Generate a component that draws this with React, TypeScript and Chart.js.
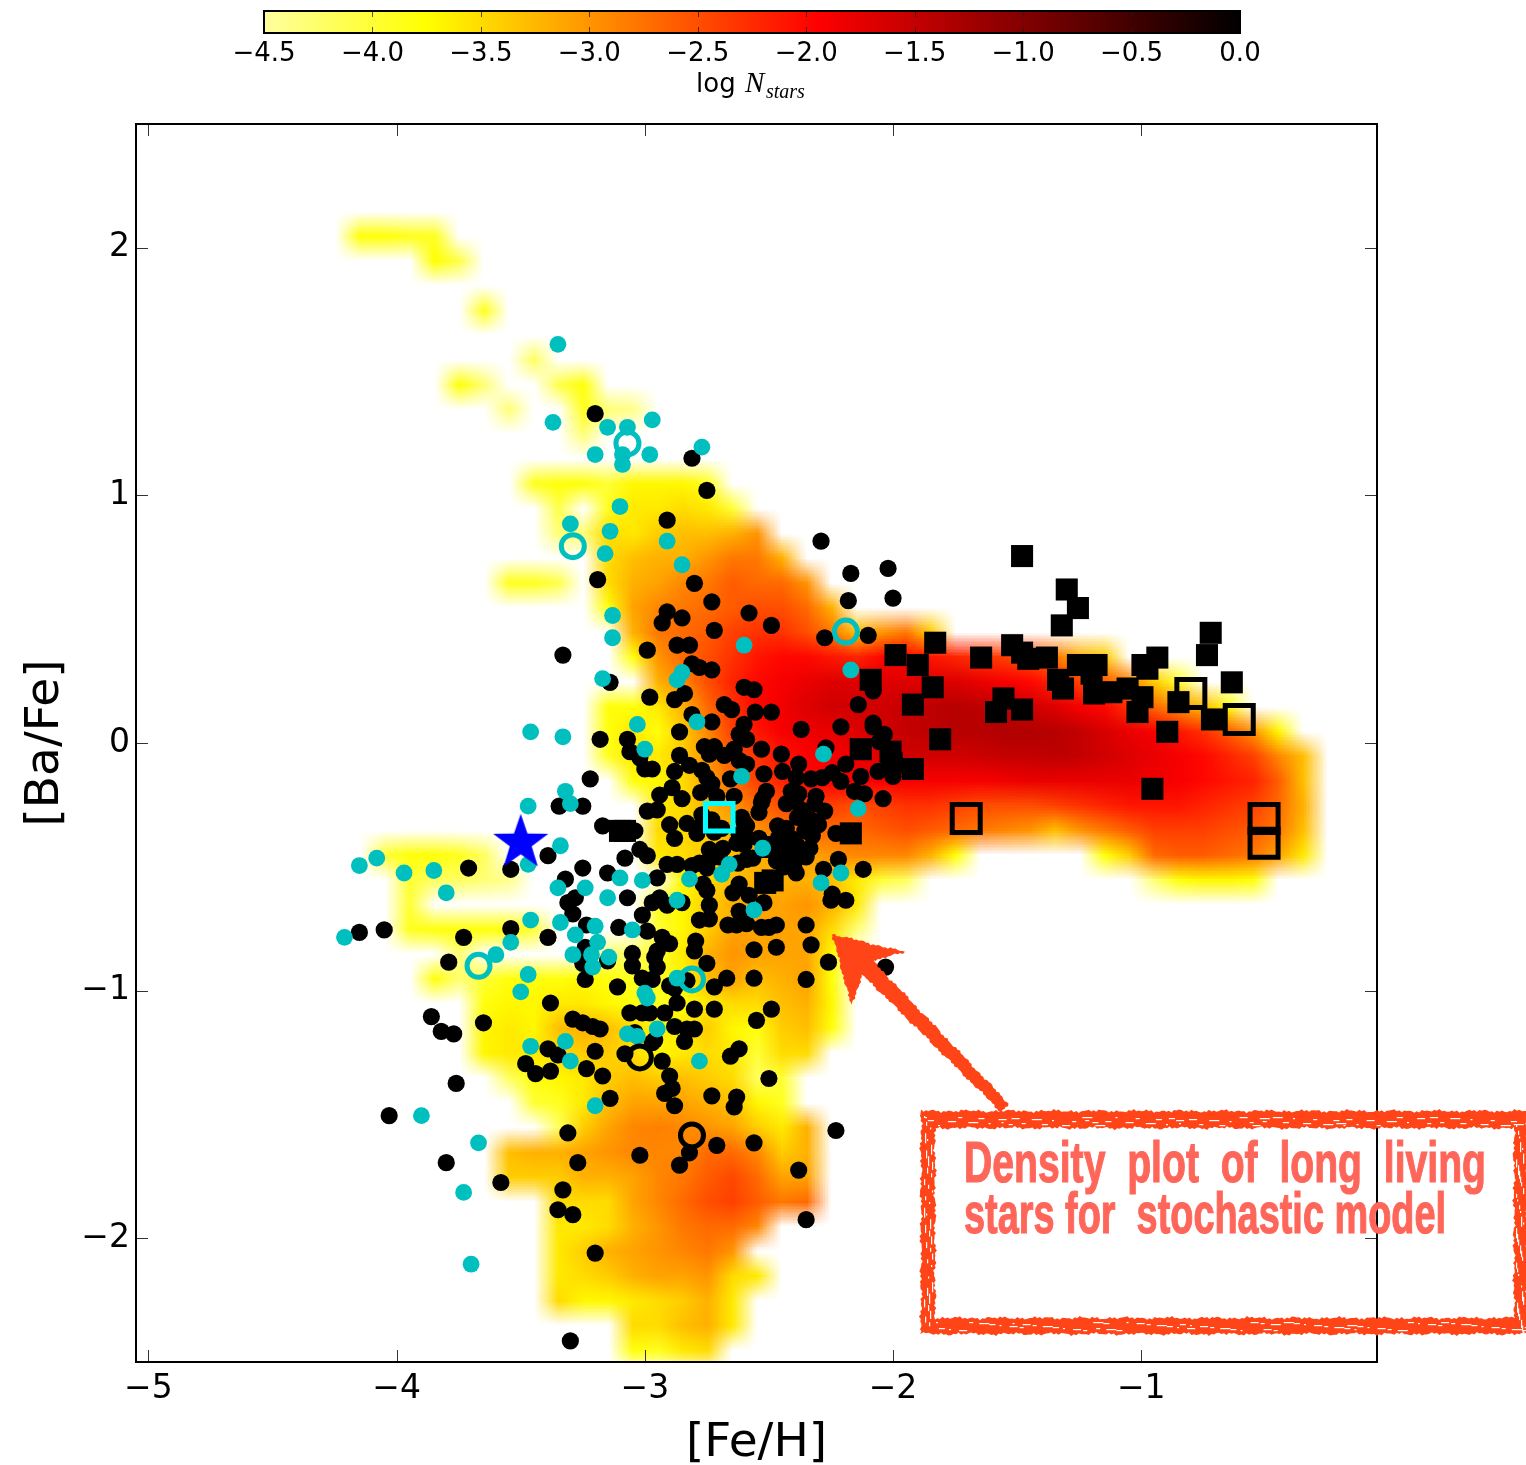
import React, { useEffect, useRef } from "react";
import { Chart, registerables } from "chart.js";

Chart.register(...registerables);

const xTicks = [-5, -4, -3, -2, -1];
const yTicks = [-2, -1, 0, 1, 2];
const colorbarTicks = [-4.5, -4, -3.5, -3, -2.5, -2, -1.5, -1, -0.5, 0];

// log N_stars colour stops: value, r, g, b
const colorStops = [
  [-4.5, 255, 255, 160],
  [-3.75, 255, 255, 0],
  [-1.95, 255, 0, 0],
  [0, 0, 0, 0],
];

// density cells: [Ba/Fe], first [Fe/H], then log N for consecutive 0.1 dex cells
const densityRows: number[][] = [
  [2.05, -4.15, -3.8, -3.8, -3.9, -3.9],
  [1.95, -3.85, -3.75, -4.1],
  [1.75, -3.65, -3.9],
  [1.55, -3.45, -4.2],
  [1.45, -3.75, -3.8, -4.3],
  [1.45, -3.35, -4.1, -3.8],
  [1.35, -3.55, -4.3],
  [1.35, -3.25, -3.9, -4.3, -4.4],
  [1.25, -3.25, -4.3],
  [1.05, -3.45, -3.9, -3.8, -3.8, -4.0, -3.7, -3.7, -3.7, -3.9],
  [0.95, -3.35, -4.1],
  [0.95, -3.15, -3.9, -3.6, -3.6, -3.5, -3.6, -4.0],
  [0.85, -3.35, -4.3, -4.3, -3.5, -3.6, -3.4, -3.3, -3.3, -3.2, -3.0],
  [0.75, -3.15, -3.5, -3.3, -3.2, -3.2, -3.0, -2.8, -2.8, -3.2],
  [0.65, -3.55, -3.9, -3.9, -4.1],
  [0.65, -3.15, -3.5, -3.2, -3.1, -2.9, -2.8, -2.6, -2.7, -2.7, -3.0],
  [0.55, -3.15, -3.8, -3.1, -2.9, -2.8, -2.7, -2.6, -2.5, -2.5, -2.7, -3.2],
  [0.45, -3.05, -3.2, -2.8, -2.7, -2.6, -2.4, -2.3, -2.3, -2.5, -2.8, -3.3, -3.0, -2.8, -3.4],
  [0.35, -3.05, -3.8, -3.0, -2.7, -2.5, -2.3, -2.1, -2.0, -2.0, -2.1, -2.2, -2.0, -2.0, -2.1, -2.2, -2.3, -2.4, -2.5, -2.8, -3.2, -3.4],
  [0.25, -2.95, -3.2, -2.9, -2.5, -2.2, -2.0, -1.9, -1.8, -1.7, -1.7, -1.7, -1.7, -1.7, -1.7, -1.8, -1.9, -2.0, -2.2, -2.4, -2.6, -2.9, -3.4, -4.0],
  [0.15, -3.15, -3.8, -3.8, -3.6, -3.2, -2.7, -2.3, -2.0, -1.85, -1.7, -1.6, -1.6, -1.6, -1.5, -1.45, -1.4, -1.45, -1.5, -1.6, -1.7, -1.9, -2.0, -2.3, -2.7, -3.0, -3.3, -3.8],
  [0.05, -3.15, -3.8, -3.6, -3.8, -3.4, -2.9, -2.4, -2.1, -1.9, -1.8, -1.8, -1.7, -1.6, -1.5, -1.45, -1.4, -1.4, -1.35, -1.35, -1.4, -1.5, -1.65, -1.8, -1.9, -2.1, -2.3, -2.6, -3.0, -3.7],
  [-0.05, -3.15, -3.9, -3.6, -3.6, -3.4, -3.0, -2.6, -2.3, -2.1, -1.95, -1.9, -1.8, -1.7, -1.6, -1.6, -1.6, -1.55, -1.5, -1.5, -1.45, -1.5, -1.6, -1.7, -1.8, -1.9, -2.0, -2.2, -2.4, -2.9, -3.3],
  [-0.15, -3.05, -3.8, -3.7, -3.5, -3.1, -2.7, -2.4, -2.2, -2.0, -1.95, -1.9, -1.9, -1.9, -1.9, -1.9, -1.9, -1.85, -1.8, -1.8, -1.8, -1.8, -1.8, -1.85, -1.9, -2.0, -2.1, -2.2, -2.6, -3.3],
  [-0.25, -2.95, -3.6, -3.5, -3.2, -3.0, -2.7, -2.5, -2.4, -2.4, -2.5, -2.4, -2.3, -2.3, -2.4, -2.5, -2.5, -2.5, -2.4, -2.3, -2.2, -2.1, -2.1, -2.1, -2.2, -2.3, -2.4, -2.7, -3.2],
  [-0.35, -2.95, -3.5, -3.5, -3.4, -3.2, -3.0, -2.8, -2.7, -2.7, -2.7, -2.6, -2.5, -2.6, -2.7, -2.8, -2.9, -3.0, -3.3, -3.0, -2.8, -2.6, -2.4, -2.4, -2.4, -2.5, -2.6, -2.8, -3.3],
  [-0.45, -4.05, -4.0, -3.8, -3.8, -3.9, -4.2],
  [-0.45, -2.95, -3.6, -3.5, -3.4, -3.3, -3.2, -3.1, -3.1, -3.0, -2.9, -2.9, -2.9, -3.2, -3.8],
  [-0.45, -1.15, -3.8, -3.4, -2.7, -2.6, -2.6, -2.7, -2.8, -3.1, -3.6],
  [-0.55, -3.95, -4.0, -4.2, -4.2, -4.3, -4.4],
  [-0.55, -2.85, -3.7, -3.5, -3.3, -3.2, -3.2, -3.2, -3.3, -3.6, -4.0, -4.2],
  [-0.55, -0.95, -4.3, -3.8, -3.7, -3.7, -3.8],
  [-0.65, -3.95, -4.0],
  [-0.65, -2.95, -3.9, -3.7, -3.4, -3.2, -3.1, -3.1, -3.0, -3.2, -3.6],
  [-0.75, -3.95, -3.9, -3.8, -3.8, -3.8, -3.8, -4.0],
  [-0.75, -2.95, -4.0, -3.7, -3.4, -3.1, -3.1, -3.1, -3.1, -3.5, -4.3],
  [-0.85, -3.75, -4.3],
  [-0.85, -3.15, -4.3, -4.2, -4.0, -3.6, -3.2, -3.0, -3.1, -3.1, -3.1, -3.7],
  [-0.95, -3.85, -3.8, -4.3, -4.0, -3.8, -3.8, -3.8, -3.7, -3.8, -3.9, -3.9, -3.7, -3.3, -3.1, -3.3, -3.2, -3.1, -3.8],
  [-1.05, -3.65, -3.8, -3.7, -3.7, -3.6, -3.6, -3.7, -3.8, -3.9, -3.8, -3.6, -3.5, -3.5, -3.3, -3.2, -3.7],
  [-1.15, -3.65, -3.7, -3.6, -3.7, -3.3, -3.2, -3.3, -3.5, -3.7, -3.6, -3.4, -3.7, -3.8, -3.4, -3.3, -3.8],
  [-1.25, -3.65, -3.7, -3.6, -3.6, -3.5, -3.4, -3.4, -3.5, -3.7, -3.6, -3.5, -3.6, -4.0, -3.5, -3.5],
  [-1.35, -3.55, -4.2, -3.8, -3.7, -3.6, -3.4, -3.3, -3.4, -3.3, -3.4, -3.5, -4.2, -4.0],
  [-1.45, -3.45, -4.0, -3.9, -3.6, -3.3, -3.1, -3.1, -3.1, -3.2, -3.3, -3.7, -3.9],
  [-1.55, -3.35, -4.2, -3.4, -3.1, -2.9, -2.85, -2.9, -3.0, -3.1, -3.4, -3.6, -3.2],
  [-1.65, -3.55, -3.3, -3.2, -3.2, -3.1, -3.0, -2.9, -2.9, -2.9, -2.7, -2.7, -2.9, -3.4, -3.2],
  [-1.75, -3.55, -3.4, -3.4, -3.4, -3.2, -3.2, -3.1, -2.9, -2.8, -2.6, -2.45, -2.7, -3.1, -3.1],
  [-1.85, -3.35, -3.5, -3.5, -3.5, -3.1, -2.9, -2.7, -2.5, -2.4, -2.6, -2.8, -2.7],
  [-1.95, -3.35, -3.6, -3.6, -3.5, -3.2, -3.0, -2.8, -2.7, -2.7, -2.9],
  [-2.05, -3.35, -3.6, -3.4, -3.2, -3.1, -3.0, -2.9, -2.8, -3.0],
  [-2.15, -3.35, -3.6, -3.5, -3.4, -3.2, -3.1, -3.1, -3.0, -3.5, -3.6],
  [-2.25, -3.35, -3.5, -3.7, -3.7, -3.6, -3.5, -3.4, -3.2, -3.6],
  [-2.35, -3.05, -3.5, -3.5, -3.3, -3.2, -3.6],
  [-2.45, -3.05, -3.8, -3.9, -3.6, -3.5],
];

const blackStars = [
  [-3.2, 1.33], [-2.81, 1.15], [-2.75, 1.02], [-2.91, 0.9], [-3.19, 0.66], [-2.8, 0.645], [-2.73, 0.57], [-2.29, 0.815],
  [-2.17, 0.685], [-2.02, 0.705], [-2.18, 0.575], [-2.0, 0.585], [-2.91, 0.53], [-2.93, 0.485], [-2.85, 0.505], [-2.58, 0.525],
  [-2.49, 0.475], [-2.72, 0.455], [-2.275, 0.425], [-2.1, 0.435], [-2.99, 0.375], [-2.87, 0.395], [-2.82, 0.395], [-3.33, 0.355],
  [-2.81, 0.32], [-2.78, 0.305], [-2.73, 0.295], [-3.14, 0.245], [-2.6, 0.225], [-2.56, 0.215], [-2.08, 0.21], [-2.98, 0.185],
  [-2.88, 0.175], [-2.84, 0.2], [-2.68, 0.155], [-2.65, 0.135], [-2.555, 0.125], [-2.49, 0.125], [-2.14, 0.155], [-2.81, 0.115],
  [-2.73, 0.085], [-2.6, 0.075], [-2.37, 0.055], [-2.21, 0.065], [-2.08, 0.08], [-2.08, 0.065], [-2.86, 0.045], [-3.18, 0.015],
  [-3.07, 0.015], [-2.62, 0.035], [-2.59, 0.015], [-2.035, 0.035], [-2.055, 0.005], [-3.06, -0.035], [-2.76, -0.015], [-2.72, -0.015],
  [-2.74, -0.045], [-2.68, -0.05], [-2.64, -0.025], [-2.53, -0.025], [-2.45, -0.045], [-2.27, -0.02], [-2.86, -0.05], [-2.38, -0.085],
  [-2.19, -0.085], [-2.62, -0.07], [-2.59, -0.085], [-3.02, -0.06], [-2.82, -0.09], [-3.0, -0.105], [-2.97, -0.105], [-2.88, -0.115],
  [-2.77, -0.11], [-2.75, -0.14], [-2.52, -0.125], [-2.445, -0.115], [-2.13, -0.135], [-2.06, -0.115], [-2.0, -0.135], [-2.245, -0.12],
  [-2.21, -0.155], [-3.22, -0.145], [-2.285, -0.14], [-2.33, -0.145], [-2.39, -0.14], [-2.155, -0.195], [-2.115, -0.205], [-2.89, -0.18],
  [-2.94, -0.21], [-2.51, -0.195], [-2.655, -0.145], [-2.73, -0.165], [-2.775, -0.2], [-2.71, -0.215], [-2.64, -0.215], [-2.85, -0.225],
  [-2.41, -0.195], [-2.38, -0.205], [-2.31, -0.215], [-2.525, -0.225], [-2.04, -0.225], [-3.345, -0.255], [-3.25, -0.255], [-2.99, -0.275],
  [-2.95, -0.27], [-2.53, -0.24], [-2.54, -0.28], [-2.43, -0.245], [-2.39, -0.22], [-2.275, -0.275], [-2.315, -0.245], [-2.355, -0.3],
  [-2.385, -0.3], [-3.17, -0.335], [-3.04, -0.355], [-2.9, -0.33], [-2.83, -0.325], [-2.88, -0.385], [-2.79, -0.365], [-2.59, -0.335],
  [-2.59, -0.385], [-2.54, -0.385], [-2.465, -0.335], [-2.43, -0.345], [-2.355, -0.355], [-2.325, -0.375], [-2.23, -0.365], [-3.02, -0.43],
  [-2.99, -0.455], [-3.39, -0.455], [-2.74, -0.43], [-2.685, -0.425], [-2.63, -0.405], [-2.59, -0.47], [-2.565, -0.465], [-2.625, -0.485],
  [-2.43, -0.415], [-2.385, -0.415], [-2.335, -0.425], [-2.35, -0.46], [-2.425, -0.465], [-2.47, -0.475], [-3.08, -0.465], [-3.25, -0.505],
  [-2.91, -0.49], [-2.87, -0.49], [-2.78, -0.485], [-2.81, -0.495], [-2.75, -0.505], [-2.22, -0.47], [-2.28, -0.51], [-2.12, -0.51],
  [-2.39, -0.525], [-3.15, -0.525], [-3.32, -0.55], [-2.95, -0.545], [-2.765, -0.57], [-2.75, -0.595], [-2.62, -0.57], [-2.645, -0.605],
  [-2.58, -0.615], [-3.07, -0.625], [-3.28, -0.625], [-3.31, -0.645], [-2.94, -0.625], [-2.97, -0.645], [-2.91, -0.655], [-2.85, -0.645],
  [-2.74, -0.655], [-2.52, -0.645], [-2.245, -0.61], [-2.25, -0.635], [-2.19, -0.635], [-3.29, -0.69], [-3.01, -0.695], [-2.62, -0.68],
  [-3.235, -0.735], [-3.105, -0.745], [-2.99, -0.76], [-2.78, -0.715], [-2.74, -0.71], [-2.665, -0.735], [-2.63, -0.735], [-2.59, -0.73],
  [-2.53, -0.745], [-2.5, -0.745], [-2.47, -0.735], [-2.35, -0.735], [-3.39, -0.785], [-2.93, -0.785], [-2.9, -0.81], [-2.795, -0.8],
  [-2.8, -0.84], [-2.56, -0.835], [-2.47, -0.825], [-2.33, -0.815], [-3.24, -0.825], [-3.25, -0.89], [-3.15, -0.88], [-3.05, -0.85],
  [-2.95, -0.84], [-2.96, -0.865], [-3.05, -0.9], [-2.95, -0.905], [-2.75, -0.89], [-2.26, -0.885], [-3.24, -0.955], [-3.01, -0.95],
  [-2.97, -0.955], [-2.67, -0.95], [-2.56, -0.95], [-2.35, -0.955], [-3.11, -0.985], [-2.9, -0.98], [-2.88, -0.99], [-2.83, -0.96],
  [-2.72, -0.985], [-2.87, -1.05], [-3.38, -1.05], [-2.8, -1.075], [-2.72, -1.075], [-2.49, -1.075], [-3.06, -1.09], [-3.01, -1.09],
  [-2.98, -1.09], [-2.92, -1.09], [-3.29, -1.115], [-3.25, -1.13], [-3.21, -1.145], [-3.18, -1.155], [-2.55, -1.12], [-3.71, -0.505],
  [-3.54, -0.51], [-4.15, -0.765], [-4.05, -0.755], [-3.73, -0.785], [-3.54, -0.75], [-3.79, -0.885], [-3.86, -1.105], [-3.82, -1.165],
  [-3.77, -1.175], [-3.65, -1.13], [-2.88, -1.145], [-2.83, -1.155], [-2.8, -1.155], [-3.04, -1.17], [-2.96, -1.2], [-2.97, -1.21],
  [-2.84, -1.205], [-3.39, -1.235], [-3.35, -1.26], [-3.2, -1.245], [-3.08, -1.255], [-2.93, -1.285], [-2.62, -1.235], [-2.655, -1.265],
  [-3.48, -1.295], [-3.44, -1.335], [-3.38, -1.325], [-3.235, -1.315], [-3.17, -1.345], [-2.9, -1.345], [-2.89, -1.395], [-2.92, -1.415],
  [-2.73, -1.425], [-2.63, -1.43], [-2.64, -1.47], [-2.88, -1.465], [-3.14, -1.435], [-2.5, -1.355], [-3.76, -1.375], [-4.03, -1.505],
  [-3.31, -1.575], [-2.23, -1.565], [-2.71, -1.625], [-2.56, -1.615], [-2.82, -1.655], [-3.02, -1.665], [-2.86, -1.705], [-3.8, -1.695],
  [-3.27, -1.695], [-2.38, -1.725], [-3.58, -1.775], [-3.33, -1.805], [-3.35, -1.885], [-3.29, -1.905], [-2.35, -1.925], [-3.2, -2.06],
  [-3.3, -2.415], [-2.03, -0.905],
  [-2.73, -0.31], [-2.69, -0.345], [-2.72, -0.36], [-2.61, -0.3], [-2.6, -0.32], [-2.62, -0.37], [-2.6, -0.41], [-2.46, -0.38],
  [-2.41, -0.385], [-2.4, -0.5], [-2.44, -0.5], [-2.3, -0.33], [-2.33, -0.31], [-2.37, -0.27], [-2.74, -0.47], [-2.7, -0.46],
  [-2.77, -0.33], [-2.77, -0.29],
];

const cyanStars = [
  [-3.35, 1.61], [-3.37, 1.295], [-3.15, 1.275], [-3.07, 1.275], [-2.97, 1.305], [-3.2, 1.165], [-3.09, 1.165], [-3.09, 1.125],
  [-2.98, 1.165], [-2.77, 1.195], [-3.1, 0.955], [-3.3, 0.885], [-3.14, 0.855], [-3.16, 0.765], [-2.91, 0.815], [-2.85, 0.72],
  [-3.13, 0.515], [-3.13, 0.425], [-2.6, 0.395], [-2.17, 0.295], [-2.85, 0.285], [-2.87, 0.255], [-3.17, 0.26], [-3.03, 0.075],
  [-2.79, 0.085], [-3.33, 0.025], [-3.46, 0.045], [-3.0, -0.025], [-2.28, -0.045], [-2.61, -0.135], [-3.32, -0.195], [-3.3, -0.245],
  [-3.47, -0.255], [-2.14, -0.265], [-3.34, -0.415], [-2.525, -0.425], [-3.47, -0.49], [-2.66, -0.49], [-2.69, -0.53], [-2.82, -0.55],
  [-3.1, -0.545], [-3.01, -0.555], [-2.21, -0.525], [-2.29, -0.565], [-3.35, -0.585], [-3.24, -0.585], [-3.15, -0.625], [-2.87, -0.635],
  [-2.56, -0.675], [-3.34, -0.725], [-3.28, -0.775], [-3.2, -0.74], [-3.19, -0.805], [-3.05, -0.755], [-3.29, -0.855], [-3.215, -0.855],
  [-3.145, -0.865], [-3.21, -0.905], [-2.87, -0.95], [-3.0, -1.01], [-2.99, -1.03], [-4.15, -0.495], [-4.08, -0.465], [-3.97, -0.525],
  [-3.85, -0.515], [-3.8, -0.605], [-4.21, -0.785], [-3.46, -0.715], [-3.54, -0.805], [-3.6, -0.855], [-3.47, -0.935], [-3.5, -1.005],
  [-3.46, -1.225], [-3.32, -1.205], [-3.3, -1.285], [-3.07, -1.175], [-3.03, -1.185], [-2.95, -1.155], [-2.78, -1.285], [-3.2, -1.465],
  [-3.9, -1.505], [-3.67, -1.615], [-3.73, -1.815], [-3.7, -2.105],
];

const blackSquares = [
  [-1.48, 0.755], [-1.3, 0.62], [-1.255, 0.545], [-1.32, 0.475], [-1.83, 0.405], [-1.99, 0.355], [-1.9, 0.315], [-1.52, 0.395],
  [-1.48, 0.365], [-1.455, 0.34], [-1.38, 0.345], [-1.645, 0.345], [-1.255, 0.315], [-1.18, 0.315], [-1.335, 0.255], [-1.315, 0.22],
  [-1.84, 0.225], [-1.92, 0.155], [-1.555, 0.18], [-1.585, 0.125], [-1.48, 0.135], [-2.09, 0.255], [-1.81, 0.015], [-2.13, -0.025],
  [-2.01, -0.035], [-2.005, -0.08], [-1.92, -0.105], [-0.955, -0.185], [-2.17, -0.365], [-1.2, 0.28], [-1.19, 0.2], [-1.12, 0.205],
  [-1.055, 0.22], [-0.995, 0.185], [-1.015, 0.125], [-0.995, 0.315], [-0.935, 0.345], [-0.975, 0.3], [-0.72, 0.445], [-0.735, 0.355],
  [-0.635, 0.245], [-0.85, 0.165], [-0.715, 0.095], [-0.895, 0.045], [-3.1, -0.355], [-3.08, -0.355], [-2.5, -0.42], [-2.415, -0.435],
  [-2.485, -0.555], [-2.515, -0.565],
];

const openBlackSquares = [[-1.705, -0.305], [-0.8, 0.2], [-0.605, 0.095], [-0.505, -0.305], [-0.505, -0.405]];
const openCyanCircles = [[-3.07, 1.21], [-3.29, 0.795], [-2.19, 0.45], [-3.67, -0.9], [-2.81, -0.955]];
const openBlackCircles = [[-3.02, -1.27], [-2.81, -1.585]];
const cyanSquare = [[-2.7, -0.3]];
const blueStar = [[-3.5, -0.403]];

const toPoints = (list: number[][]) => list.map(([x, y]) => ({ x, y }));

function colorFor(v: number): [number, number, number] {
  if (v <= colorStops[0][0]) return [colorStops[0][1], colorStops[0][2], colorStops[0][3]];
  for (let i = 1; i < colorStops.length; i++) {
    const a = colorStops[i - 1];
    const b = colorStops[i];
    if (v <= b[0]) {
      const t = (v - a[0]) / (b[0] - a[0]);
      return [a[1] + t * (b[1] - a[1]), a[2] + t * (b[2] - a[2]), a[3] + t * (b[3] - a[3])];
    }
  }
  return [0, 0, 0];
}

const GRID_X0 = -4.45;
const GRID_Y0 = 2.15;
const GRID_STEP = 0.1;
const GRID_COLS = 44;
const GRID_ROWS = 48;

function buildDensityImage(): HTMLCanvasElement {
  const c = document.createElement("canvas");
  c.width = GRID_COLS;
  c.height = GRID_ROWS;
  const g = c.getContext("2d")!;
  const img = g.createImageData(GRID_COLS, GRID_ROWS);
  densityRows.forEach((row) => {
    const r = Math.round((GRID_Y0 - row[0]) / GRID_STEP);
    const c0 = Math.round((row[1] - GRID_X0) / GRID_STEP);
    for (let k = 2; k < row.length; k++) {
      const col = c0 + k - 2;
      const [cr, cg, cb] = colorFor(row[k]);
      const i = (r * GRID_COLS + col) * 4;
      img.data[i] = cr;
      img.data[i + 1] = cg;
      img.data[i + 2] = cb;
      img.data[i + 3] = 255;
    }
  });
  g.putImageData(img, 0, 0);
  return c;
}

function buildStar(): HTMLCanvasElement {
  const c = document.createElement("canvas");
  c.width = 62;
  c.height = 62;
  const g = c.getContext("2d")!;
  g.fillStyle = "#0000ff";
  g.beginPath();
  for (let i = 0; i < 10; i++) {
    const r = i % 2 === 0 ? 29 : 11.5;
    const a = -Math.PI / 2 + (i * Math.PI) / 5;
    const x = 31 + r * Math.cos(a);
    const y = 31 + r * Math.sin(a);
    if (i === 0) g.moveTo(x, y);
    else g.lineTo(x, y);
  }
  g.closePath();
  g.fill();
  return c;
}

const densityPlugin = {
  id: "density",
  beforeDatasetsDraw(chart: any) {
    const { ctx, chartArea: a, scales } = chart;
    const image = buildDensityImage();
    const left = scales.x.getPixelForValue(GRID_X0 - GRID_STEP / 2);
    const right = scales.x.getPixelForValue(GRID_X0 + (GRID_COLS - 0.5) * GRID_STEP);
    const top = scales.y.getPixelForValue(GRID_Y0 + GRID_STEP / 2);
    const bottom = scales.y.getPixelForValue(GRID_Y0 - (GRID_ROWS - 0.5) * GRID_STEP);
    ctx.save();
    ctx.beginPath();
    ctx.rect(a.left, a.top, a.right - a.left, a.bottom - a.top);
    ctx.clip();
    ctx.imageSmoothingEnabled = true;
    ctx.imageSmoothingQuality = "low";
    ctx.drawImage(image, left, top, right - left, bottom - top);
    ctx.restore();
  },
};

const framePlugin = {
  id: "frame",
  afterDatasetsDraw(chart: any) {
    const { ctx, chartArea: a, scales } = chart;
    ctx.save();
    ctx.strokeStyle = "#333";
    ctx.lineWidth = 1;
    ctx.beginPath();
    xTicks.forEach((v) => {
      const p = Math.round(scales.x.getPixelForValue(v)) + 0.5;
      ctx.moveTo(p, a.top);
      ctx.lineTo(p, a.top + 12);
      ctx.moveTo(p, a.bottom);
      ctx.lineTo(p, a.bottom - 12);
    });
    yTicks.forEach((v) => {
      const p = Math.round(scales.y.getPixelForValue(v)) + 0.5;
      ctx.moveTo(a.left, p);
      ctx.lineTo(a.left + 12, p);
      ctx.moveTo(a.right, p);
      ctx.lineTo(a.right - 12, p);
    });
    ctx.stroke();
    ctx.strokeStyle = "#000";
    ctx.lineWidth = 2;
    ctx.strokeRect(a.left, a.top, a.right - a.left, a.bottom - a.top);
    ctx.restore();
  },
};

function wobble(i: number) {
  return Math.sin(i * 2.73) * 0.9 + Math.sin(i * 7.31 + 1) * 0.7 + Math.sin(i * 0.37) * 0.6;
}

function roughPolygon(ctx: CanvasRenderingContext2D, pts: number[][], seed: number, amp: number) {
  let n = seed;
  pts.forEach((p, idx) => {
    const q = pts[(idx + 1) % pts.length];
    const len = Math.hypot(q[0] - p[0], q[1] - p[1]);
    const steps = Math.max(1, Math.round(len / 2.5));
    const nx = -(q[1] - p[1]) / len;
    const ny = (q[0] - p[0]) / len;
    for (let s = 0; s < steps; s++) {
      const t = s / steps;
      const w = wobble(n++) * amp;
      const x = p[0] + (q[0] - p[0]) * t + nx * w;
      const y = p[1] + (q[1] - p[1]) * t + ny * w;
      if (idx === 0 && s === 0) ctx.moveTo(x, y);
      else ctx.lineTo(x, y);
    }
  });
  ctx.closePath();
}

const noteLines = ["Density  plot  of  long  living", "stars for  stochastic model"];

const notePlugin = {
  id: "note",
  afterDraw(chart: any) {
    const ctx: CanvasRenderingContext2D = chart.ctx;
    const red = "#ff4517";
    ctx.save();
    ctx.fillStyle = red;
    ctx.beginPath();
    roughPolygon(ctx, [[832, 934], [905, 952], [873, 961], [1009, 1104], [1001, 1112], [863, 975], [851, 1005]], 3, 0.8);
    ctx.fill();
    ctx.beginPath();
    roughPolygon(ctx, [[921, 1111], [1527, 1111], [1527, 1334], [921, 1334]], 11, 1);
    roughPolygon(ctx, [[935, 1128], [935, 1318], [1514, 1318], [1514, 1128]], 47, 1);
    ctx.fill("evenodd");
    // worn speckles of the hand-drawn frame
    ctx.fillStyle = "#fff";
    for (let i = 0; i < 70; i++) {
      const x = 925 + ((i * 83.7) % 596);
      const w = 2 + (i % 5) * 2;
      ctx.fillRect(x, 1117 + ((i * 7) % 9), w, 1.2);
      ctx.fillRect(x + 11, 1322 + ((i * 5) % 9), w, 1.2);
    }
    for (let i = 0; i < 36; i++) {
      const y = 1116 + ((i * 57.3) % 212);
      const h = 2 + (i % 5) * 2;
      ctx.fillRect(924 + ((i * 7) % 9), y, 1.2, h);
      ctx.fillRect(1516 + ((i * 5) % 8), y + 9, 1.2, h);
    }
    ctx.fillStyle = "#ff665a";
    ctx.strokeStyle = "#ff665a";
    ctx.lineWidth = 1.2;
    ctx.textAlign = "left";
    ctx.textBaseline = "alphabetic";
    ctx.font = 'bold 58px "Liberation Sans Narrow", "Liberation Sans", sans-serif';
    ctx.fillText(noteLines[0], 964, 1182, 522);
    ctx.strokeText(noteLines[0], 964, 1182, 522);
    ctx.fillText(noteLines[1], 964, 1233, 482);
    ctx.strokeText(noteLines[1], 964, 1233, 482);
    ctx.restore();
  },
};

const colorbarPlugin = {
  id: "colorbar",
  beforeDatasetsDraw(chart: any) {
    const { ctx, chartArea: a, scales } = chart;
    const s = scales.x;
    const grad = ctx.createLinearGradient(a.left, 0, a.right, 0);
    colorStops.forEach((st) => {
      grad.addColorStop((s.getPixelForValue(st[0]) - a.left) / (a.right - a.left), `rgb(${st[1]},${st[2]},${st[3]})`);
    });
    ctx.save();
    ctx.fillStyle = grad;
    ctx.fillRect(a.left, a.top, a.right - a.left, a.bottom - a.top);
    ctx.strokeStyle = "rgba(30,30,30,0.75)";
    ctx.lineWidth = 1;
    ctx.beginPath();
    colorbarTicks.slice(1, -1).forEach((v) => {
      const p = Math.round(s.getPixelForValue(v)) + 0.5;
      ctx.moveTo(p, a.top);
      ctx.lineTo(p, a.top + 6);
      ctx.moveTo(p, a.bottom);
      ctx.lineTo(p, a.bottom - 6);
    });
    ctx.stroke();
    ctx.strokeStyle = "#000";
    ctx.lineWidth = 2;
    ctx.strokeRect(a.left, a.top, a.right - a.left, a.bottom - a.top);
    ctx.fillStyle = "#000";
    ctx.textAlign = "left";
    ctx.textBaseline = "alphabetic";
    ctx.font = '26px "DejaVu Sans"';
    ctx.fillText("log", 696, 92);
    ctx.font = 'italic 29px "Liberation Serif"';
    ctx.fillText("N", 745, 92);
    ctx.font = 'italic 20px "Liberation Serif"';
    ctx.fillText("stars", 766, 98);
    ctx.restore();
  },
};

const minus = (s: string) => s.replace("-", "\u2212");
const CYAN_DOT = "#00bfbf";

export default function App() {
  const mainRef = useRef<HTMLCanvasElement>(null);
  const barRef = useRef<HTMLCanvasElement>(null);

  useEffect(() => {
    const star = buildStar();
    const main = new Chart(mainRef.current!, {
      type: "scatter",
      data: {
        datasets: [
          { order: 0, data: toPoints(blueStar), pointStyle: star as any, pointRadius: 29 },
          { order: 1, data: toPoints(cyanSquare), pointStyle: "rect", pointRadius: 19.5, pointBorderWidth: 5, pointBorderColor: "#00ffff", pointBackgroundColor: "rgba(0,0,0,0)" },
          { order: 2, data: toPoints(openCyanCircles), pointRadius: 11.5, pointBorderWidth: 5, pointBorderColor: CYAN_DOT, pointBackgroundColor: "rgba(0,0,0,0)" },
          { order: 3, data: toPoints(openBlackCircles), pointRadius: 11.5, pointBorderWidth: 5, pointBorderColor: "#000", pointBackgroundColor: "rgba(0,0,0,0)" },
          { order: 4, data: toPoints(cyanStars), pointRadius: 8.4, pointBorderWidth: 0, pointBackgroundColor: CYAN_DOT },
          { order: 5, data: toPoints(openBlackSquares), pointStyle: "rect", pointRadius: 19.8, pointBorderWidth: 5, pointBorderColor: "#000", pointBackgroundColor: "rgba(0,0,0,0)" },
          { order: 6, data: toPoints(blackSquares), pointStyle: "rect", pointRadius: 15.6, pointBorderWidth: 0, pointBackgroundColor: "#000" },
          { order: 7, data: toPoints(blackStars), pointRadius: 8.6, pointBorderWidth: 0, pointBackgroundColor: "#000" },
        ],
      },
      options: {
        animation: false,
        responsive: false,
        layout: { padding: { left: 0, top: 124, right: 149, bottom: 0 } },
        plugins: { legend: { display: false }, tooltip: { enabled: false } },
        scales: {
          x: {
            type: "linear",
            min: -5.05,
            max: -0.05,
            grid: { display: false, drawTicks: false },
            border: { display: false },
            afterFit: (s: any) => { s.height = 103; },
            afterBuildTicks: (s: any) => { s.ticks = xTicks.map((value) => ({ value })); },
            ticks: { color: "#000", padding: 8, maxRotation: 0, autoSkip: false, font: { family: "DejaVu Sans", size: 33 }, callback: (v: any) => minus(String(v)) },
            title: { display: true, text: "[Fe/H]", color: "#000", padding: { top: 0, bottom: -7 }, font: { family: "DejaVu Sans", size: 47 } },
          },
          y: {
            type: "linear",
            min: -2.5,
            max: 2.5,
            grid: { display: false, drawTicks: false },
            border: { display: false },
            afterFit: (s: any) => { s.width = 136; },
            afterBuildTicks: (s: any) => { s.ticks = yTicks.map((value) => ({ value })); },
            ticks: { color: "#000", padding: 6, autoSkip: false, font: { family: "DejaVu Sans", size: 33 }, callback: (v: any) => minus(String(v)) },
            title: { display: true, text: "[Ba/Fe]", color: "#000", padding: { top: 18, bottom: 0 }, font: { family: "DejaVu Sans", size: 47 } },
          },
        },
      },
      plugins: [densityPlugin, framePlugin, notePlugin],
    } as any);

    const bar = new Chart(barRef.current!, {
      type: "scatter",
      data: { datasets: [{ data: [] }] },
      options: {
        animation: false,
        responsive: false,
        layout: { padding: { left: 264, top: 11, right: 286, bottom: 0 } },
        plugins: { legend: { display: false }, tooltip: { enabled: false } },
        scales: {
          x: {
            type: "linear",
            min: -4.5,
            max: 0,
            grid: { display: false, drawTicks: false },
            border: { display: false },
            afterFit: (s: any) => { s.height = 77; },
            afterBuildTicks: (s: any) => { s.ticks = colorbarTicks.map((value) => ({ value })); },
            ticks: { color: "#000", padding: 6, maxRotation: 0, autoSkip: false, font: { family: "DejaVu Sans", size: 26 }, callback: (v: any) => minus(Number(v).toFixed(1)) },
          },
          y: { display: false, min: 0, max: 1 },
        },
      },
      plugins: [colorbarPlugin],
    } as any);

    return () => {
      main.destroy();
      bar.destroy();
    };
  }, []);

  return (
    <div style={{ position: "absolute", left: 0, top: 0, width: 1526, height: 1465, overflow: "hidden", background: "#fff" }}>
      <canvas ref={mainRef} width={1526} height={1465} style={{ position: "absolute", left: 0, top: 0 }} />
      <canvas ref={barRef} width={1526} height={110} style={{ position: "absolute", left: 0, top: 0 }} />
    </div>
  );
}
